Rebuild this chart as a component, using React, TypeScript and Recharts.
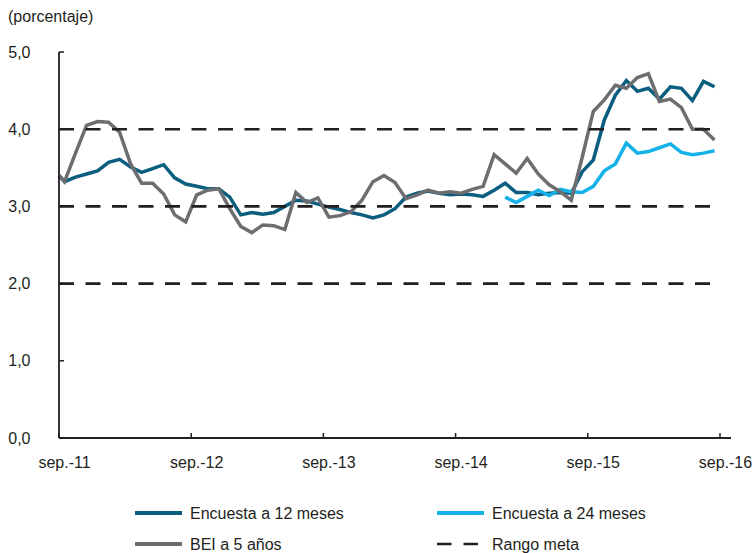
import { LineChart, Line, XAxis, YAxis, ReferenceLine, Legend } from "recharts";

// monthly values, sep.-11 .. ago.-16 (plotted at mid-month)
const encuesta12 = [
  3.32, 3.38, 3.42, 3.46, 3.57, 3.61, 3.51, 3.44, 3.49, 3.54,
  3.37, 3.29, 3.26, 3.23, 3.23, 3.12, 2.89, 2.92, 2.9, 2.92,
  3.0, 3.08, 3.07, 3.03, 2.99, 2.96, 2.92, 2.89, 2.85, 2.89,
  2.97, 3.12, 3.17, 3.2, 3.17, 3.15, 3.16, 3.15, 3.13, 3.21,
  3.3, 3.18, 3.18, 3.15, 3.17, 3.18, 3.17, 3.45, 3.6, 4.12,
  4.44, 4.63, 4.49, 4.53, 4.39, 4.55, 4.53, 4.37, 4.62, 4.55,
];

// starts in ene.-15 (month 40)
const inicio24 = 40;
const encuesta24 = [
  3.12, 3.05, 3.13, 3.21, 3.14, 3.22, 3.19, 3.18, 3.26, 3.46,
  3.55, 3.82, 3.69, 3.71, 3.76, 3.81, 3.7, 3.67, 3.69, 3.72,
];

const bei5 = [
  3.32, 3.69, 4.05, 4.1, 4.09, 3.96, 3.55, 3.3, 3.3, 3.16,
  2.89, 2.8, 3.15, 3.21, 3.23, 2.97, 2.74, 2.66, 2.76, 2.75,
  2.7, 3.18, 3.05, 3.11, 2.86, 2.88, 2.93, 3.08, 3.32, 3.4,
  3.31, 3.1, 3.15, 3.21, 3.17, 3.19, 3.17, 3.22, 3.26, 3.67,
  3.55, 3.43, 3.62, 3.42, 3.28, 3.19, 3.08, 3.64, 4.23, 4.38,
  4.57, 4.53, 4.67, 4.72, 4.36, 4.39, 4.28, 4.0, 4.0, 3.86,
];

// both lines start on the axis
const inicio12Valor = 3.4;
const inicioBeiValor = 3.4;

const rangoMeta = [2, 3, 4];
const tickLabels = ["sep.-11", "sep.-12", "sep.-13", "sep.-14", "sep.-15", "sep.-16"];
const xTicks = [0, 12, 24, 36, 48, 60];
const yTicks = [0, 1, 2, 3, 4, 5];

const TEAL = "#0b5e7e";
const BLUE = "#15b1e8";
const GREY = "#6d6e71";
const DARK = "#231f20";
const FONT = "'Liberation Sans', Arial, sans-serif";

const data = [
  { x: 0, e12: inicio12Valor, e24: null, bei: inicioBeiValor },
  ...encuesta12.map((v, i) => ({
    x: i + 0.5,
    e12: v,
    e24: i >= inicio24 ? encuesta24[i - inicio24] : null,
    bei: bei5[i],
  })),
];
const lastX = data[data.length - 1].x;

const legendItems = [
  { name: "Encuesta a 12 meses", color: TEAL, dash: undefined, col: 0, row: 0 },
  { name: "Encuesta a 24 meses", color: BLUE, dash: undefined, col: 1, row: 0 },
  { name: "BEI a 5 años", color: GREY, dash: undefined, col: 0, row: 1 },
  { name: "Rango meta", color: DARK, dash: "14.5 12", col: 1, row: 1 },
];

function XTick(props: any) {
  const { x, y, index } = props;
  return (
    <g>
      <line x1={x} x2={x} y1={y - 5} y2={y} stroke={DARK} strokeWidth={1.5} />
      <text x={x + 5.5} y={y + 29.5} textAnchor="middle" fontSize={16} fill={DARK} fontFamily={FONT}>
        {tickLabels[index]}
      </text>
    </g>
  );
}

function YTick(props: any) {
  const { x, y, payload } = props;
  return (
    <g>
      <line x1={x} x2={x + 5} y1={y} y2={y} stroke={DARK} strokeWidth={1.5} />
      <text x={x - 28.5} y={y} textAnchor="end" dominantBaseline="central" fontSize={16} fill={DARK} fontFamily={FONT}>
        {payload.value.toFixed(1).replace(".", ",")}
      </text>
    </g>
  );
}

function LegendBox() {
  return (
    <svg width={755} height={60}>
      {legendItems.map((it) => {
        const lx = it.col === 0 ? 135 : 437;
        const cy = it.row === 0 ? 18 : 49;
        return (
          <g key={it.name}>
            <line
              x1={lx}
              x2={it.dash ? lx + 41 : lx + 47}
              y1={cy}
              y2={cy}
              stroke={it.color}
              strokeWidth={it.dash ? 2.6 : 4}
              strokeDasharray={it.dash}
            />
            <text x={lx + 55} y={cy} dominantBaseline="central" fontSize={16} fill={DARK} fontFamily={FONT}>
              {it.name}
            </text>
          </g>
        );
      })}
    </svg>
  );
}

export default function App() {
  return (
    <div style={{ position: "absolute", left: 0, top: 0, width: 755, height: 553, background: "#fff" }}>
      <div
        style={{
          position: "absolute",
          left: 8,
          top: 8,
          fontSize: 16,
          lineHeight: "18px",
          fontFamily: FONT,
          color: DARK,
        }}
      >
        (porcentaje)
      </div>
      <LineChart width={755} height={553} data={data} margin={{ top: 52, right: 24, left: 0, bottom: 0 }}>
        <XAxis
          dataKey="x"
          type="number"
          domain={[0, 61]}
          ticks={xTicks}
          interval={0}
          tickSize={0}
          tickMargin={0}
          height={115}
          tick={<XTick />}
          axisLine={{ stroke: DARK, strokeWidth: 1.8 }}
          tickLine={false}
        />
        <YAxis
          type="number"
          domain={[0, 5]}
          ticks={yTicks}
          interval={0}
          width={59}
          tickSize={0}
          tickMargin={0}
          tick={<YTick />}
          axisLine={{ stroke: DARK, strokeWidth: 1.8 }}
          tickLine={false}
        />
        <Line dataKey="e12" stroke={TEAL} strokeWidth={3.5} dot={false} isAnimationActive={false} />
        <Line dataKey="e24" stroke={BLUE} strokeWidth={3.5} dot={false} isAnimationActive={false} />
        <Line dataKey="bei" stroke={GREY} strokeWidth={3.5} dot={false} isAnimationActive={false} />
        {rangoMeta.map((v) => (
          <ReferenceLine
            key={v}
            segment={[
              { x: 0, y: v },
              { x: lastX, y: v },
            ]}
            stroke={DARK}
            strokeWidth={2.6}
            strokeDasharray="15 11.5"
          />
        ))}
        <Legend
          layout="horizontal"
          verticalAlign="middle"
          align="center"
          wrapperStyle={{ top: 495, left: 0, width: 755, height: 60 }}
          content={() => <LegendBox />}
        />
      </LineChart>
    </div>
  );
}
